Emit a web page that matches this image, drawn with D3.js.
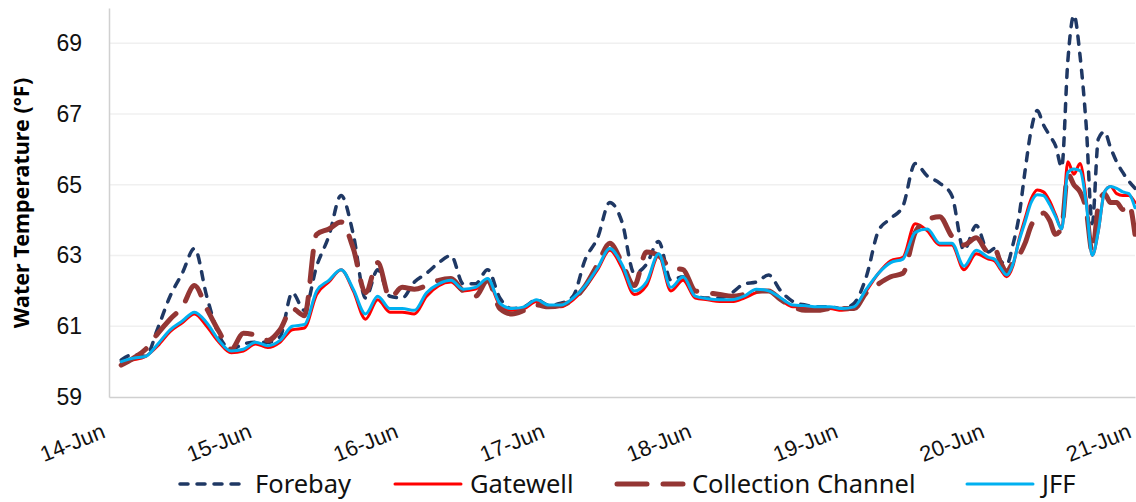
<!DOCTYPE html>
<html>
<head>
<meta charset="utf-8">
<script src="https://cdn.jsdelivr.net/npm/d3@7"></script>
<style>
  body { margin: 0; background: #fff; }
  svg { font-family: "Noto Sans", "Open Sans", sans-serif; }
</style>
</head>
<body>
<svg width="1136" height="502"></svg>
<script>
// hours after 14-Jun 00:00 (2 h steps, hourly on the last day)
const hours = d3.range(2, 145, 2).concat(d3.range(145, 169));

const forebay = [
  60.05, 60.2, 60.15, 60.95, 61.85, 62.5, 63.2, 61.85, 60.75, 60.35, 60.5, 60.55,
  60.55, 60.7, 61.95, 61.45, 62.7, 63.55, 64.7, 63.6, 61.8, 62.6, 61.85, 61.8,
  62.25, 62.5, 62.8, 63.0, 62.2, 62.2, 62.6, 61.8, 61.5, 61.55, 61.75, 61.6,
  61.65, 61.85, 62.9, 63.5, 64.5, 63.95, 62.5, 62.75, 63.4, 62.3, 62.4, 61.85,
  61.8, 61.8, 61.95, 62.2, 62.25, 62.45, 62.0, 61.7, 61.6, 61.55, 61.55, 61.5,
  61.65, 62.4, 63.7, 64.05, 64.4, 65.6, 65.25, 65.05, 64.7, 63.15, 63.85, 63.1,
  63.2, 62.85, 62.75, 63.3, 64.1, 65.4, 66.55, 67.1, 66.7, 66.4, 66.1, 65.5,
  68.5, 69.8, 68.65, 66.7, 63.9, 66.3, 66.5, 66.05, 65.65, 65.35, 65.1, 64.9
];
const gatewell = [
  60.0, 60.05, 60.15, 60.45, 60.85, 61.1, 61.35, 61.0, 60.55, 60.25, 60.3, 60.5,
  60.4, 60.55, 60.9, 60.95, 61.9, 62.25, 62.6, 62.0, 61.2, 61.75, 61.4, 61.4,
  61.35, 61.85, 62.15, 62.25, 62.0, 62.05, 62.3, 61.6, 61.45, 61.5, 61.7, 61.55,
  61.55, 61.75, 62.1, 62.6, 63.15, 62.65, 61.9, 62.15, 63.0, 62.0, 62.3, 61.8,
  61.75, 61.7, 61.7, 61.8, 61.95, 62.0, 61.75, 61.55, 61.55, 61.5, 61.5, 61.45,
  61.5, 62.0, 62.5, 62.85, 62.95, 63.9, 63.7, 63.3, 63.3, 62.6, 63.05, 62.9,
  62.85, 62.6, 62.4, 62.7, 63.45, 64.05, 64.6, 64.85, 64.8, 64.55, 64.15, 63.75,
  65.65, 65.3, 65.6, 64.6, 63.0, 63.7, 64.8, 64.95, 64.75, 64.7, 64.7, 64.5
];
const collection = [
  59.9, 60.1, 60.35, 60.8, 61.2, 61.55, 62.15, 61.5, 60.85, 60.35, 60.8, 60.75,
  60.6, 60.9, 61.5, 61.3, 63.6, 63.75, 63.95, 63.2, 61.95, 62.8, 61.8, 62.1,
  62.05, 62.15, 62.3, 62.35, 62.0, 61.85, 62.3, 61.5, 61.35, 61.45, 61.6, 61.55,
  61.6, 61.75, 62.15, 62.75, 63.35, 62.8, 62.15, 63.1, 63.0, 62.65, 62.6, 62.0,
  61.95, 61.9, 61.85, 61.9, 62.0, 62.0, 61.75, 61.55, 61.45, 61.45, 61.5, 61.5,
  61.5, 61.95, 62.2, 62.4, 62.5, 63.65, 64.0, 64.1, 63.55, 63.3, 63.5, 63.1,
  63.2, 62.8, 62.55, 62.8, 63.0, 63.35, 63.85, 64.1, 64.2, 64.0, 63.6, 63.8,
  65.3, 65.0, 64.8, 64.3, 63.1, 64.4, 64.75, 64.5, 64.5, 64.3, 64.45, 63.6
];
const jff = [
  60.0, 60.1, 60.15, 60.5, 60.9, 61.15, 61.4, 61.1, 60.6, 60.3, 60.35, 60.55,
  60.45, 60.6, 61.0, 61.05, 62.0, 62.3, 62.6, 62.05, 61.35, 61.85, 61.5, 61.5,
  61.45, 61.95, 62.2, 62.3, 62.05, 62.1, 62.35, 61.65, 61.5, 61.55, 61.75, 61.6,
  61.6, 61.8, 62.15, 62.65, 63.2, 62.75, 62.0, 62.25, 63.05, 62.1, 62.4, 61.85,
  61.78, 61.75, 61.75, 61.85, 62.05, 62.0, 61.8, 61.6, 61.58, 61.55, 61.55, 61.5,
  61.55, 62.05, 62.5, 62.8, 62.9, 63.65, 63.75, 63.35, 63.35, 62.7, 63.15, 62.95,
  62.9, 62.65, 62.45, 62.75, 63.4, 63.95, 64.5, 64.72, 64.7, 64.45, 64.1, 63.75,
  65.35, 65.45, 65.4, 64.5, 63.0, 63.7, 64.8, 64.95, 64.9, 64.8, 64.75, 64.35
];

const seriesNames = ["Forebay", "Gatewell", "Collection Channel", "JFF"];
const yTicks = [59, 61, 63, 65, 67, 69];

const svg = d3.select("svg");
const start = new Date(2021, 5, 14);
const toDate = h => d3.timeHour.offset(start, h);

const xScale = d3.scaleTime().domain([start, new Date(2021, 5, 21)]).range([109, 1135]);
const yScale = d3.scaleLinear().domain([59, 70]).range([397, 8]);

// gridlines
svg.append("g").selectAll("line")
  .data(yTicks.slice(1))
  .join("line")
  .attr("x1", 109).attr("x2", 1135)
  .attr("y1", d => yScale(d)).attr("y2", d => yScale(d))
  .attr("stroke", "#f0f0f0").attr("stroke-width", 1.5);

// axes
let yAxis = d3.axisLeft(yScale).tickValues(yTicks).tickSize(0).tickPadding(27);
svg.append("g").attr("id", "yAxisG")
  .attr("transform", "translate(109,0)")
  .call(yAxis);

let xAxis = d3.axisBottom(xScale).ticks(d3.timeDay.every(1))
  .tickFormat(d3.timeFormat("%-d-%b")).tickSize(0);
svg.append("g").attr("id", "xAxisG")
  .attr("transform", "translate(0,397)")
  .call(xAxis);

svg.selectAll("#yAxisG .domain, #xAxisG .domain")
  .attr("stroke", "#d0d0d0").attr("stroke-width", 1.5);
svg.selectAll("#yAxisG text")
  .attr("font-size", 23).attr("fill", "#111");
svg.selectAll("#xAxisG text")
  .attr("font-size", 22).attr("fill", "#111")
  .attr("text-anchor", "end")
  .attr("dy", 0).attr("y", 0)
  .attr("transform", "translate(-3,40) rotate(-22)");

svg.append("text")
  .attr("transform", "translate(29,203) rotate(-90)")
  .attr("text-anchor", "middle")
  .attr("font-size", 21.5).attr("font-weight", "bold")
  .attr("fill", "#000")
  .text("Water Temperature (°F)");

// lines
const styles = [
  {color: "#1f3864", width: 3.5, dash: "8 9"},
  {color: "#ff0000", width: 3, dash: null},
  {color: "#943634", width: 5, dash: "30 16"},
  {color: "#00b0f0", width: 3, dash: null}
];
const allSeries = [forebay, gatewell, collection, jff];

allSeries.forEach((values, i) => {
  const line = d3.line()
    .x((d, j) => xScale(toDate(hours[j])))
    .y(d => yScale(d))
    .curve(d3.curveMonotoneX);
  svg.append("path")
    .attr("d", line(values))
    .attr("fill", "none")
    .attr("stroke", styles[i].color)
    .attr("stroke-width", styles[i].width)
    .attr("stroke-linecap", "round")
    .attr("stroke-linejoin", "round")
    .attr("stroke-dasharray", styles[i].dash);
});

// legend
const legendX = [178, 393, 615, 965];
const legend = svg.append("g").attr("transform", "translate(0,484)");
seriesNames.forEach((name, i) => {
  legend.append("line")
    .attr("x1", legendX[i] + 2).attr("x2", legendX[i] + 68)
    .attr("stroke", styles[i].color)
    .attr("stroke-width", styles[i].width)
    .attr("stroke-linecap", "round")
    .attr("stroke-dasharray", styles[i].dash);
  legend.append("text")
    .attr("x", legendX[i] + 77).attr("y", 0).attr("dy", "0.35em")
    .attr("font-size", 25.5).attr("fill", "#111")
    .text(name);
});
</script>
</body>
</html>
